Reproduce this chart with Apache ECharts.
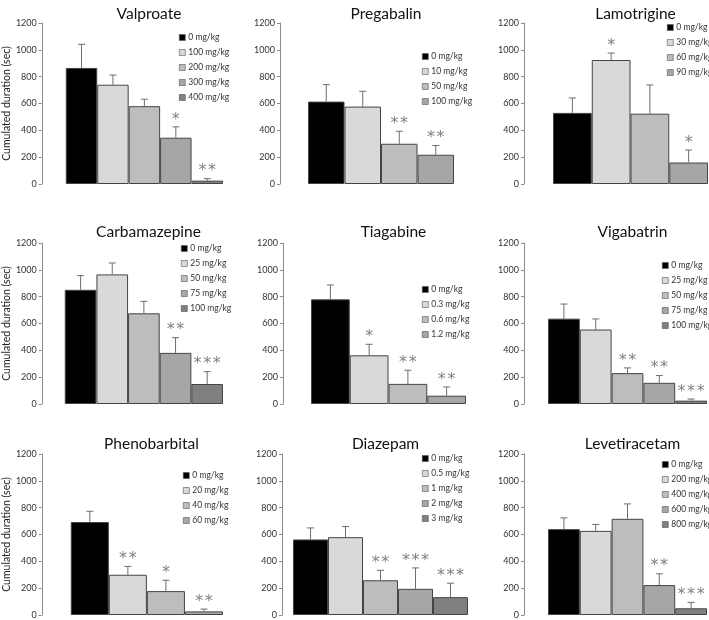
<!DOCTYPE html>
<html>
<head>
<meta charset="utf-8">
<script src="https://cdn.jsdelivr.net/npm/echarts@6/dist/echarts.min.js"></script>
<style>html,body{margin:0;padding:0;background:#fff}#c{width:709px;height:620px}</style>
</head>
<body>
<div id="c"></div>
<script>
// ---------- DATA ----------
const drugNames = ['Valproate','Pregabalin','Lamotrigine','Carbamazepine','Tiagabine','Vigabatrin','Phenobarbital','Diazepam','Levetiracetam'];
const doseLabels = [
  ['0 mg/kg','100 mg/kg','200 mg/kg','300 mg/kg','400 mg/kg'],
  ['0 mg/kg','10 mg/kg','50 mg/kg','100 mg/kg'],
  ['0 mg/kg','30 mg/kg','60 mg/kg','90 mg/kg'],
  ['0 mg/kg','25 mg/kg','50 mg/kg','75 mg/kg','100 mg/kg'],
  ['0 mg/kg','0.3 mg/kg','0.6 mg/kg','1.2 mg/kg'],
  ['0 mg/kg','25 mg/kg','50 mg/kg','75 mg/kg','100 mg/kg'],
  ['0 mg/kg','20 mg/kg','40 mg/kg','60 mg/kg'],
  ['0 mg/kg','0.5 mg/kg','1 mg/kg','2 mg/kg','3 mg/kg'],
  ['0 mg/kg','200 mg/kg','400 mg/kg','600 mg/kg','800 mg/kg']
];
const meanValues = [
  [865, 740, 580, 345, 25],
  [614, 577, 300, 218],
  [530, 924, 524, 160],
  [851, 966, 676, 381, 149],
  [780, 363, 150, 62],
  [636, 555, 230, 158, 25],
  [693, 300, 178, 27],
  [563, 580, 259, 195, 133],
  [640, 627, 717, 223, 50]
];
const errorValues = [
  [176, 72, 52, 81, 15],
  [127, 114, 93, 69],
  [111, 52, 214, 93],
  [106, 85, 89, 113, 92],
  [107, 82, 102, 65],
  [109, 79, 39, 54, 12],
  [80, 62, 81, 17],
  [86, 79, 74, 156, 104],
  [84, 48, 111, 84, 44]
];
const starLabels = [
  ['', '', '', '*', '**'],
  ['', '', '**', '**'],
  ['', '*', '', '*'],
  ['', '', '', '**', '***'],
  ['', '*', '**', '**'],
  ['', '', '**', '**', '***'],
  ['', '**', '*', '**'],
  ['', '', '**', '***', '***'],
  ['', '', '', '**', '***']
];
const yTicks = [0, 200, 400, 600, 800, 1000, 1200];
const yAxisTitle = 'Cumulated duration (sec)';

// ---------- LAYOUT / STYLE ----------
const barColors = ['#000000', '#d9d9d9', '#bdbdbd', '#a6a6a6', '#808080'];
const rowTops = [23, 243, 454];
const plotHeight = 161;
const titleY = [1, 219, 431];
const panelLayout = [
  {axis: 41, x0: 65, x1: 223, legX: 179, legY: 33},
  {axis: 280, x0: 308, x1: 454, legX: 422, legY: 52},
  {axis: 524, x0: 553, x1: 708, legX: 667, legY: 23},
  {axis: 41, x0: 64, x1: 223, legX: 181, legY: 244},
  {axis: 283, x0: 311, x1: 466, legX: 422, legY: 285},
  {axis: 524, x0: 548, x1: 707, legX: 662, legY: 261},
  {axis: 41, x0: 70, x1: 223, legX: 183, legY: 471},
  {axis: 282, x0: 293, x1: 468, legX: 422, legY: 454},
  {axis: 524, x0: 548, x1: 707, legX: 662, legY: 460}
];
const FONT = 'Lato, "Open Sans", sans-serif';

const option = {
  animation: false,
  backgroundColor: '#fff',
  title: [], grid: [], xAxis: [], yAxis: [], legend: [], series: []
};

drugNames.forEach((drug, p) => {
  const L = panelLayout[p];
  const row = Math.floor(p / 3), col = p % 3;
  const doses = doseLabels[p];
  option.title.push({
    text: drug,
    left: (L.x0 + L.x1) / 2, top: titleY[row],
    textAlign: 'center',
    textStyle: {fontFamily: FONT, fontSize: 15.5, fontWeight: 'normal', color: '#111'}
  });
  option.grid.push({
    left: L.x0, width: L.x1 - L.x0, top: rowTops[row], height: plotHeight, containLabel: false
  });
  option.xAxis.push({
    type: 'category', gridIndex: p, data: doses, boundaryGap: true,
    axisLine: {show: false}, axisTick: {show: false}, axisLabel: {show: false}, splitLine: {show: false}
  });
  option.yAxis.push({
    type: 'value', gridIndex: p, min: yTicks[0], max: yTicks[yTicks.length - 1], interval: 200,
    offset: L.x0 - L.axis,
    name: col === 0 ? yAxisTitle : '',
    nameLocation: 'middle', nameGap: 24,
    nameTextStyle: {fontFamily: FONT, fontSize: 10.5, color: '#222'},
    axisLine: {show: true, lineStyle: {color: '#8c8c8c', width: 1}},
    axisTick: {show: true, length: 3, lineStyle: {color: '#8c8c8c'}},
    axisLabel: {fontFamily: FONT, fontSize: 9, color: '#333', margin: 5, formatter: v => String(v)},
    splitLine: {show: false}
  });
  const seriesNames = doses.map(d => drug + '|' + d);
  option.legend.push({
    orient: 'vertical', left: L.legX, top: L.legY,
    itemWidth: 6, itemHeight: 6, itemGap: 6, padding: 0,
    icon: 'rect',
    itemStyle: {borderWidth: 0.6, borderColor: '#555'},
    data: seriesNames,
    formatter: n => n.split('|')[1],
    textStyle: {fontFamily: FONT, fontSize: 8.5, color: '#333', padding: [0, 0, 0, -2], lineHeight: 9},
    selectedMode: false
  });
  doses.forEach((d, i) => {
    const data = doses.map((_, k) => (k === i ? meanValues[p][k] : '-'));
    option.series.push({
      type: 'bar', name: seriesNames[i], xAxisIndex: p, yAxisIndex: p,
      stack: 'panel' + p, barWidth: '100%', data: data,
      itemStyle: {color: barColors[i], borderColor: '#444', borderWidth: 1},
      emphasis: {disabled: true}
    });
  });
  option.series.push({
    type: 'custom', xAxisIndex: p, yAxisIndex: p, z: 5,
    data: meanValues[p].map((v, i) => [i, v, errorValues[p][i], starLabels[p][i]]),
    renderItem: (params, api) => {
      const idx = params.dataIndex;
      const v = meanValues[p][idx], e = errorValues[p][idx], s = starLabels[p][idx];
      const b = api.coord([idx, v]);
      const t = api.coord([idx, v + e]);
      const cap = 3.5;
      const children = [
        {type: 'line', shape: {x1: b[0], y1: b[1], x2: t[0], y2: t[1]}, style: {stroke: '#6e6e6e', lineWidth: 1}},
        {type: 'line', shape: {x1: t[0] - cap, y1: t[1], x2: t[0] + cap, y2: t[1]}, style: {stroke: '#6e6e6e', lineWidth: 1}}
      ];
      if (s) {
        children.push({type: 'text', style: {text: s.split('').join('\u200A'), x: t[0], y: t[1] - 7.5, align: 'center', verticalAlign: 'middle',
          fill: '#808080', font: '16px "DejaVu Sans", sans-serif'}});
      }
      return {type: 'group', children: children};
    }
  });
});

const chart = echarts.init(document.getElementById('c'), null, {renderer: 'canvas'});
chart.setOption(option);
</script>
</body>
</html>
